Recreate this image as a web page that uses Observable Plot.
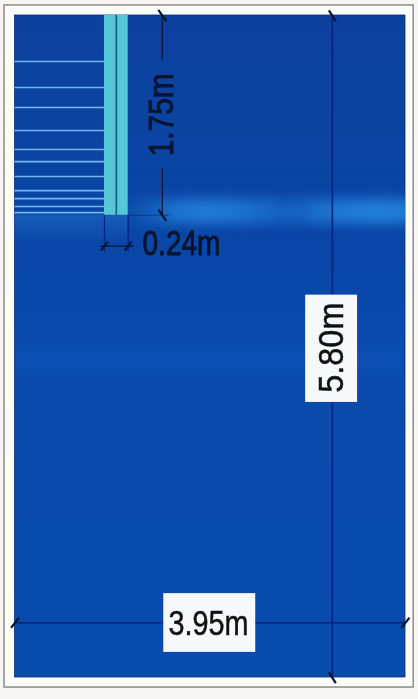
<!DOCTYPE html>
<html>
<head>
<meta charset="utf-8">
<script src="https://cdn.jsdelivr.net/npm/d3@7"></script>
<script src="https://cdn.jsdelivr.net/npm/@observablehq/plot@0.6"></script>
<style>
html,body{margin:0;padding:0;background:#f7f6f4}
svg{display:block;filter:blur(0.6px)}
.streak{filter:blur(6px)}
</style>
</head>
<body>
<div id="chart"></div>
<script>
// All lengths in metres, measured from the top-left corner of the room
const roomWidth = 3.95;
const roomHeight = 5.80;
const slotDepth = 1.75;
const slotLeft = 0.905;
const slotWidth = 0.24;
const dimX580 = 3.21;
const dimY395 = 5.32;
const dimX175 = 1.49;
const dimY024 = 2.02;
const rungs = [0.403, 0.631, 0.806, 1.008, 1.174, 1.28, 1.411, 1.534, 1.604, 1.674, 1.727];
const dimLabels = ["1.75m", "0.24m", "3.95m", "5.80m"];
const labelLengths = [83, 78, 80, 90];
// brightness of the light streak along the room's width
const glowFrom = [1.145, 1.3, 1.45, 1.6, 1.8, 2.0, 2.2, 2.4, 2.6, 2.8, 3.0, 3.2, 3.4, 3.6, 3.8];
const glowTo   = [1.3, 1.45, 1.6, 1.8, 2.0, 2.2, 2.4, 2.6, 2.8, 3.0, 3.2, 3.4, 3.6, 3.8, 4.1];
const glowLevel = [0.2, 0.35, 0.6, 0.8, 0.9, 0.85, 0.75, 0.6, 0.45, 0.5, 0.7, 0.85, 0.95, 1, 0.9];

const ink = "#071430";
const dimLine = "#06217f";
const plate = "#f6f8fb";
const labelFont = "Liberation Sans";

const rooms = [{x1: 0, x2: roomWidth, y1: 0, y2: roomHeight}];
const slot = [{x1: slotLeft, x2: slotLeft + slotWidth, y1: 0, y2: slotDepth}];
const glow = glowFrom.map((x1, i) => ({x1, x2: glowTo[i], level: glowLevel[i]}));

function gradient(d, id, stops) {
  const g = d.append("linearGradient").attr("id", id).attr("x1", 0).attr("x2", 0).attr("y1", 0).attr("y2", 1);
  for (const [o, c, a] of stops) g.append("stop").attr("offset", o).attr("stop-color", c).attr("stop-opacity", a);
}
function defs() {
  const d = d3.create("svg:defs");
  gradient(d, "field", [
    [0, "#0c409e", 1], [0.2, "#0b44a2", 1], [0.4, "#0947a8", 1], [0.52, "#0b4db0", 1],
    [0.6, "#094aab", 1], [1, "#094cae", 1]
  ]);
  gradient(d, "under", [[0, "#2a78d0", 0.45], [1, "#2a78d0", 0]]);
  return d.node();
}

const chart = Plot.plot({
  width: 418,
  height: 699,
  marginTop: 15, marginRight: 13, marginBottom: 22, marginLeft: 14.5,
  style: {background: "#f7f6f4", overflow: "visible"},
  x: {domain: [0, roomWidth], range: [14.5, 405], axis: null},
  y: {domain: [0, roomHeight], range: [15, 677], axis: null},
  marks: [
    defs,
    // paper frame
    Plot.rect([{x1: -0.106, x2: 4.033, y1: -0.088, y2: 5.888}], {x1: "x1", x2: "x2", y1: "y1", y2: "y2", fill: "#fbfbfa", stroke: "#8f8b86", strokeWidth: 1.5}),
    // room
    Plot.rect(rooms, {x1: "x1", x2: "x2", y1: "y1", y2: "y2", fill: "url(#field)", stroke: "#0a2f78", strokeWidth: 0.8}),
    // light streak
    Plot.rect(glow, {x1: "x1", x2: "x2", y1: 1.62, y2: 1.82, fill: "#2280d8", fillOpacity: "level", inset: -1, clip: true, className: "streak"}),
    Plot.rect([{x1: 0, x2: slotLeft + slotWidth}], {x1: "x1", x2: "x2", y1: slotDepth, y2: 2.0, fill: "url(#under)"}),
    // rungs
    Plot.ruleY(rungs, {x1: 0, x2: slotLeft, stroke: "#70b9ee", strokeWidth: 1.6}),
    // slot
    Plot.rect(slot, {x1: "x1", x2: "x2", y1: "y1", y2: "y2", fill: "#55c8d8"}),
    Plot.ruleX([slotLeft + slotWidth / 2], {y1: 0, y2: slotDepth, stroke: "#0d5a78", strokeWidth: 1.6}),
    // dimension 5.80 m
    Plot.ruleX([dimX580], {y1: 0, y2: roomHeight, stroke: dimLine, strokeWidth: 1.6}),
    Plot.link([0, roomHeight], {x1: dimX580 - 0.035, x2: dimX580 + 0.035, y1: d => d - 0.045, y2: d => d + 0.05, stroke: ink, strokeWidth: 2.2}),
    // dimension 3.95 m
    Plot.ruleY([dimY395], {x1: 0, x2: roomWidth, stroke: dimLine, strokeWidth: 1.6}),
    Plot.link([0, roomWidth], {x1: d => d - 0.04, x2: d => d + 0.04, y1: dimY395 + 0.045, y2: dimY395 - 0.045, stroke: ink, strokeWidth: 2.2}),
    // dimension 1.75 m
    Plot.ruleX([dimX175], {y1: 0, y2: 0.39, stroke: ink, strokeWidth: 1.2}),
    Plot.ruleX([dimX175], {y1: 1.34, y2: slotDepth, stroke: ink, strokeWidth: 1.2}),
    Plot.ruleY([slotDepth], {x1: slotLeft + slotWidth, x2: 1.56, stroke: "#0a3c80", strokeWidth: 1.2}),
    Plot.link([0, slotDepth], {x1: dimX175 - 0.04, x2: dimX175 + 0.04, y1: d => d - 0.05, y2: d => d + 0.05, stroke: ink, strokeWidth: 2.2}),
    // dimension 0.24 m
    Plot.ruleX([slotLeft, slotLeft + slotWidth], {y1: slotDepth, y2: 2.07, stroke: dimLine, strokeWidth: 1.2}),
    Plot.ruleY([dimY024], {x1: slotLeft - 0.04, x2: slotLeft + slotWidth + 0.06, stroke: ink, strokeWidth: 1.3}),
    Plot.link([slotLeft, slotLeft + slotWidth], {x1: d => d - 0.035, x2: d => d + 0.035, y1: dimY024 + 0.04, y2: dimY024 - 0.04, stroke: ink, strokeWidth: 2}),
    // label plates
    Plot.rect([{x1: 1.505, x2: 2.435, y1: 5.065, y2: 5.58}], {x1: "x1", x2: "x2", y1: "y1", y2: "y2", fill: plate}),
    Plot.rect([{x1: 2.94, x2: 3.465, y1: 2.45, y2: 3.39}], {x1: "x1", x2: "x2", y1: "y1", y2: "y2", fill: plate}),
    // labels
    Plot.text([dimLabels[0]], {x: 1.48, y: 0.87, rotate: -90, fontSize: 35, fontFamily: labelFont, fill: ink, stroke: ink, strokeWidth: 0.9, text: d => d}),
    Plot.text([dimLabels[1]], {x: 1.684, y: 2.0, fontSize: 35, fontFamily: labelFont, fill: ink, stroke: ink, strokeWidth: 0.9, text: d => d}),
    Plot.text([dimLabels[2]], {x: 1.957, y: 5.33, fontSize: 35, fontFamily: labelFont, fill: "#111", stroke: "#111", strokeWidth: 0.5, text: d => d}),
    Plot.text([dimLabels[3]], {x: 3.2, y: 2.91, rotate: -90, fontSize: 35, fontFamily: labelFont, fill: "#111", stroke: "#111", strokeWidth: 0.5, text: d => d})
  ]
});
// the reference lettering is condensed: fit each label to its measured length
d3.select(chart).selectAll("text").each(function () {
  const i = dimLabels.indexOf(this.textContent);
  if (i >= 0) d3.select(this).attr("textLength", labelLengths[i]).attr("lengthAdjust", "spacingAndGlyphs");
});
document.getElementById("chart").append(chart);
</script>
</body>
</html>
